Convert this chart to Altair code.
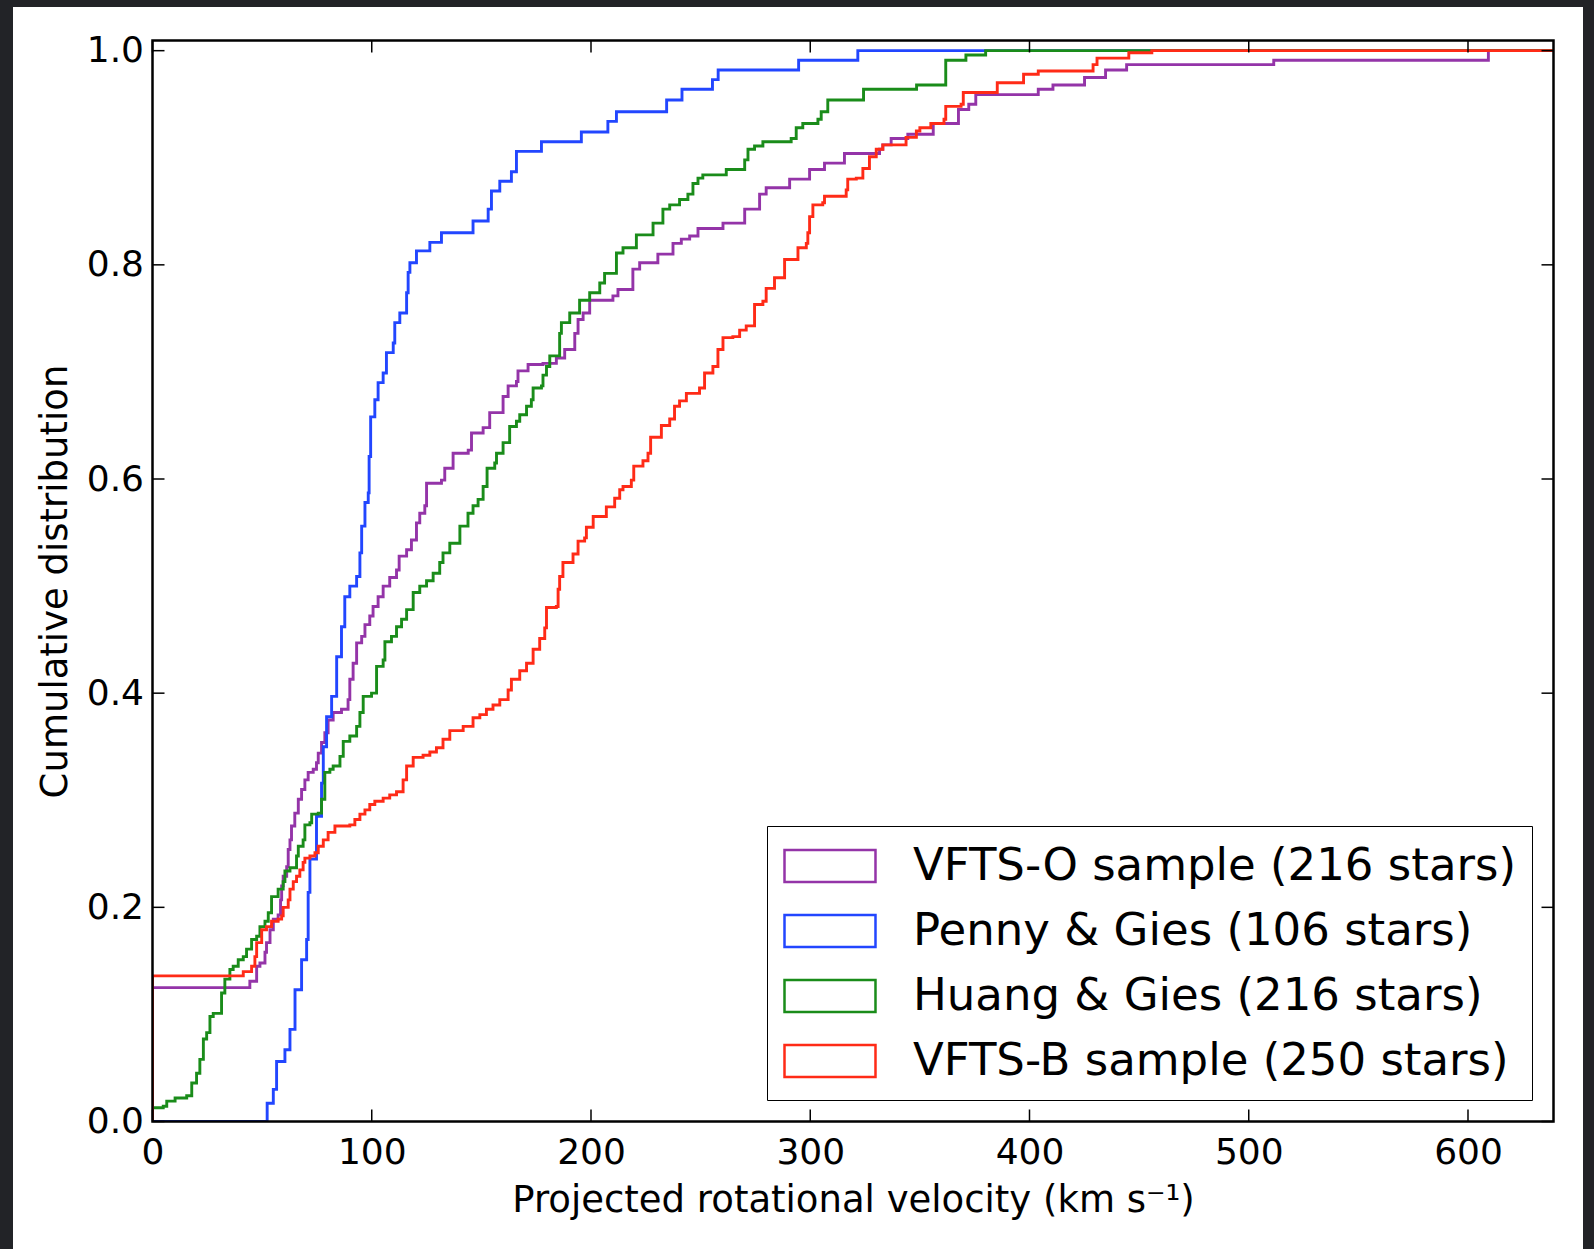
import altair as alt
import pandas as pd

# ---------------- data ----------------
series_names = [
    "VFTS-O sample (216 stars)",
    "Penny & Gies (106 stars)",
    "Huang & Gies (216 stars)",
    "VFTS-B sample (250 stars)",
]
series_colors = ["#9434a8", "#2246ff", "#1a8c1a", "#ff2b17"]

vftso_v = [0, 0, 44.4, 47.5, 49.0, 51.3, 52.0, 53.6, 55.1, 57.3, 58.4, 58.9, 59.6, 61.2, 61.9, 62.7, 63.4,
           64.9, 66.5, 68.0, 69.5, 71.0, 73.3, 74.8, 75.6, 77.1, 78.6, 80.1, 82.4, 86.2, 89.2, 90.0, 91.5,
           93.1, 95.4, 96.9, 99.1, 100.6, 102.9, 105.2, 108.2, 111.3, 112.5, 115.9, 118.1, 120.4, 121.9,
           124.2, 125.0, 131.8, 133.3, 137.1, 144.0, 145.5, 150.8, 153.8, 159.9, 162.2, 166.0, 166.7, 171.3,
           178.1, 184.2, 188.0, 192.6, 194.1, 196.4, 199.4, 210.0, 212.3, 219.1, 222.2, 230.5, 237.4, 241.2,
           245.0, 248.8, 260.2, 270.1, 276.9, 279.9, 290.6, 299.7, 306.5, 315.6, 331.6, 333.1, 336.9, 344.5,
           356.1, 367.6, 372.3, 375.5, 404.0, 410.7, 425.1, 434.7, 444.3, 511.4, 609.3, 639]
vftso_cdf = [0, 0.125, 0.131, 0.145, 0.148, 0.158, 0.167, 0.179, 0.189, 0.193, 0.207, 0.22, 0.229, 0.238,
             0.254, 0.263, 0.276, 0.288, 0.301, 0.31, 0.319, 0.326, 0.329, 0.335, 0.344, 0.354, 0.363, 0.375,
             0.382, 0.385, 0.394, 0.413, 0.428, 0.447, 0.453, 0.464, 0.472, 0.481, 0.490, 0.500, 0.508,
             0.515, 0.528, 0.534, 0.543, 0.559, 0.568, 0.575, 0.596, 0.599, 0.610, 0.624, 0.627, 0.643,
             0.648, 0.662, 0.677, 0.687, 0.691, 0.701, 0.707, 0.708, 0.713, 0.721, 0.736, 0.749, 0.755,
             0.767, 0.771, 0.777, 0.796, 0.802, 0.810, 0.820, 0.824, 0.827, 0.834, 0.839, 0.852, 0.866,
             0.872, 0.880, 0.889, 0.895, 0.904, 0.908, 0.912, 0.918, 0.922, 0.932, 0.945, 0.950, 0.959,
             0.964, 0.968, 0.975, 0.982, 0.987, 0.991, 1.0, 1.0]

penny_v = [0, 52.3, 55.1, 56.6, 60.4, 62.7, 65.0, 68.0, 70.3, 71.0, 71.8, 74.8, 77.1, 77.9, 79.4, 81.7,
           84.0, 86.2, 87.7, 90.0, 93.1, 94.6, 95.4, 96.9, 98.4, 98.8, 99.5, 101.4, 102.9, 105.2, 106.7,
           109.8, 110.5, 112.8, 115.9, 116.6, 117.4, 120.4, 126.5, 131.8, 146.2, 153.1, 154.6, 158.4, 163.7,
           166.0, 177.4, 195.6, 207.7, 211.6, 234.5, 241.5, 255.4, 258.0, 294.7, 321.7, 639]
penny_cdf = [0, 0.017, 0.03, 0.056, 0.067, 0.086, 0.123, 0.151, 0.17, 0.214, 0.245, 0.285, 0.316, 0.35,
             0.378, 0.397, 0.434, 0.462, 0.49, 0.50, 0.509, 0.531, 0.556, 0.578, 0.587, 0.621, 0.658,
             0.674, 0.69, 0.699, 0.718, 0.727, 0.746, 0.755, 0.774, 0.793, 0.802, 0.813, 0.821, 0.830,
             0.841, 0.852, 0.869, 0.878, 0.887, 0.906, 0.915, 0.924, 0.934, 0.943, 0.954, 0.964, 0.973,
             0.982, 0.991, 1.0, 1.0]

huang_v = [0, 0, 4.9, 6.5, 10.3, 15.6, 17.9, 20.1, 21.6, 23.2, 24.7, 26.2, 27.7, 31.5, 33.0, 35.3, 36.8,
           39.1, 41.4, 42.9, 45.2, 47.5, 49.0, 51.3, 52.8, 54.3, 57.3, 59.6, 60.4, 62.7, 65.7, 66.5, 68.7,
           69.5, 71.8, 72.6, 75.6, 77.1, 78.6, 80.9, 82.4, 85.5, 87.0, 90.0, 93.1, 94.6, 96.1, 99.9, 102.2,
           105.2, 106.0, 109.0, 111.3, 113.6, 115.9, 118.9, 121.9, 125.0, 128.0, 131.0, 132.5, 135.6, 140.2,
           143.9, 146.2, 148.5, 150.8, 152.6, 156.1, 156.9, 159.9, 162.9, 166.0, 167.5, 170.6, 172.8, 173.6,
           177.4, 178.1, 179.7, 181.2, 185.7, 186.5, 190.3, 194.8, 199.4, 204.0, 206.2, 211.6, 214.6, 220.7,
           228.3, 232.8, 235.9, 240.4, 244.2, 246.5, 248.8, 251.0, 261.7, 270.1, 271.6, 274.6, 278.4, 291.3,
           293.6, 296.6, 303.5, 305.0, 308.0, 324.3, 348.5, 361.8, 371.0, 380.0, 639]
huang_cdf = [0, 0.0128, 0.0143, 0.019, 0.022, 0.024, 0.036, 0.045, 0.058, 0.077, 0.083, 0.098, 0.101,
             0.120, 0.133, 0.142, 0.145, 0.151, 0.154, 0.161, 0.170, 0.173, 0.182, 0.187, 0.195, 0.210,
             0.217, 0.224, 0.234, 0.237, 0.248, 0.257, 0.263, 0.277, 0.279, 0.287, 0.288, 0.301, 0.326,
             0.329, 0.332, 0.341, 0.355, 0.360, 0.369, 0.382, 0.397, 0.400, 0.425, 0.431, 0.448, 0.453,
             0.462, 0.469, 0.478, 0.494, 0.500, 0.505, 0.512, 0.522, 0.531, 0.540, 0.556, 0.568, 0.575,
             0.581, 0.593, 0.610, 0.615, 0.624, 0.634, 0.649, 0.654, 0.660, 0.668, 0.674, 0.685, 0.687,
             0.697, 0.705, 0.715, 0.736, 0.746, 0.755, 0.767, 0.774, 0.783, 0.792, 0.811, 0.816, 0.828,
             0.839, 0.852, 0.856, 0.861, 0.866, 0.876, 0.881, 0.884, 0.889, 0.898, 0.908, 0.911, 0.915,
             0.918, 0.928, 0.932, 0.936, 0.943, 0.954, 0.964, 0.968, 0.991, 0.996, 1.0, 1.0]

vftsb_v = [0, 0, 41.4, 45.2, 46.7, 47.5, 49.8, 52.0, 54.3, 57.3, 58.9, 59.6, 61.9, 62.7, 64.2, 65.7, 67.2,
           68.7, 69.5, 71.8, 74.1, 75.6, 77.9, 80.1, 83.2, 90.0, 92.3, 94.6, 96.9, 99.1, 101.4, 105.2, 108.2,
           111.3, 114.3, 115.9, 118.9, 123.4, 126.5, 129.5, 132.5, 135.6, 141.7, 146.2, 149.3, 152.3, 155.3,
           158.4, 162.2, 163.7, 167.5, 170.6, 173.6, 176.6, 178.9, 179.7, 184.2, 185.0, 185.7, 187.2, 191.8,
           194.1, 197.1, 197.9, 201.0, 207.0, 210.8, 213.1, 214.6, 218.4, 219.5, 223.7, 226.0, 227.2, 232.1,
           235.9, 238.1, 240.4, 243.5, 249.5, 251.8, 255.6, 257.9, 260.2, 264.7, 267.8, 270.8, 274.6, 278.4,
           279.9, 283.7, 288.3, 294.4, 298.2, 298.9, 299.7, 301.2, 305.7, 306.5, 316.4, 317.1, 321.0, 324.0,
           327.0, 330.1, 333.1, 343.7, 348.4, 350.0, 355.0, 361.0, 361.8, 368.8, 369.8, 385.3, 397.3, 404.0,
           429.0, 430.8, 445.3, 455.8, 639]
vftsb_cdf = [0, 0.136, 0.140, 0.145, 0.154, 0.167, 0.179, 0.182, 0.187, 0.189, 0.192, 0.200, 0.207, 0.217,
             0.224, 0.229, 0.235, 0.242, 0.246, 0.248, 0.251, 0.257, 0.263, 0.270, 0.276, 0.277, 0.282,
             0.287, 0.291, 0.296, 0.299, 0.302, 0.305, 0.308, 0.319, 0.332, 0.340, 0.342, 0.345, 0.349,
             0.357, 0.365, 0.369, 0.377, 0.380, 0.385, 0.389, 0.394, 0.403, 0.413, 0.421, 0.428, 0.441,
             0.451, 0.461, 0.480, 0.481, 0.497, 0.509, 0.522, 0.530, 0.542, 0.545, 0.555, 0.565, 0.574,
             0.582, 0.590, 0.593, 0.599, 0.612, 0.617, 0.624, 0.639, 0.650, 0.656, 0.668, 0.673, 0.680,
             0.685, 0.699, 0.705, 0.721, 0.732, 0.733, 0.739, 0.743, 0.763, 0.766, 0.778, 0.788, 0.805,
             0.816, 0.820, 0.830, 0.845, 0.856, 0.858, 0.864, 0.870, 0.880, 0.881, 0.890, 0.901, 0.908,
             0.912, 0.919, 0.925, 0.928, 0.932, 0.936, 0.948, 0.950, 0.961, 0.970, 0.978, 0.981, 0.987,
             0.993, 0.998, 1.0, 1.0]

x_ticks = [0, 100, 200, 300, 400, 500, 600]
y_ticks = [0.0, 0.2, 0.4, 0.6, 0.8, 1.0]

# ---------------- build table ----------------
rows = []
idx = 0
for name, vs, cs in zip(series_names,
                        [vftso_v, penny_v, huang_v, vftsb_v],
                        [vftso_cdf, penny_cdf, huang_cdf, vftsb_cdf]):
    for v, c in zip(vs, cs):
        rows.append({"series": name, "v": v, "cdf": c, "idx": idx})
        idx += 1
df = pd.DataFrame(rows)

W, H = 1401, 1081
XMAX, YMAX = 639, 1.0095
FONT = "DejaVu Sans"
TL = 12  # inward tick length

xscale = alt.Scale(domain=[0, XMAX], nice=False, zero=False)
yscale = alt.Scale(domain=[0, YMAX], nice=False, zero=False)
one = pd.DataFrame({"a": [0]})

# white figure panel over dark frame
panel = alt.Chart(one).mark_rect(color="white", clip=False).encode(
    x=alt.value(-139.5), x2=alt.value(1430.5), y=alt.value(-33.5), y2=alt.value(1215)
)

lines = alt.Chart(df).mark_line(interpolate="step-after", strokeWidth=2.9, clip=True).encode(
    x=alt.X("v:Q", scale=xscale,
            axis=alt.Axis(values=x_ticks, title="Projected rotational velocity (km s\u207b\u00b9)",
                          ticks=False, domain=False, grid=False, labelFontSize=36, labelFont=FONT,
                          labelColor="black", labelPadding=14, titleFont=FONT, titleFontSize=37,
                          titleFontWeight="normal", titleColor="black", titlePadding=12,
                          labelFlush=False, zindex=1)),
    y=alt.Y("cdf:Q", scale=yscale,
            axis=alt.Axis(values=y_ticks, format=".1f", title="Cumulative distribution",
                          ticks=False, domain=False, grid=False, labelFontSize=36, labelFont=FONT,
                          labelColor="black", labelPadding=9, titleFont=FONT, titleFontSize=37,
                          titleFontWeight="normal", titleColor="black", titlePadding=12,
                          labelFlush=False, zindex=1)),
    color=alt.Color("series:N",
                    scale=alt.Scale(domain=series_names, range=series_colors),
                    legend=alt.Legend(title=None, orient="none", legendX=614.5, legendY=785.5,
                                      strokeColor="black", fillColor="white", padding=16,
                                      labelFontSize=45, labelFont=FONT, labelColor="black",
                                      labelLimit=1000, labelOffset=82,
                                      symbolType="M-1,-0.711L3.044,-0.711L3.044,0.711L-1,0.711Z",
                                      symbolSize=2025, symbolStrokeWidth=2.5,
                                      symbolFillColor="transparent", rowPadding=18,
                                      cornerRadius=0)),
    order=alt.Order("idx:Q"),
)

xt = pd.DataFrame({"t": x_ticks})
yt = pd.DataFrame({"t": y_ticks})
bottom_ticks = alt.Chart(xt).mark_rule(color="black", strokeWidth=1.5).encode(
    x=alt.X("t:Q", scale=xscale), y=alt.value(H), y2=alt.value(H - TL))
top_ticks = alt.Chart(xt).mark_rule(color="black", strokeWidth=1.5).encode(
    x=alt.X("t:Q", scale=xscale), y=alt.value(0), y2=alt.value(TL))
left_ticks = alt.Chart(yt).mark_rule(color="black", strokeWidth=1.5).encode(
    y=alt.Y("t:Q", scale=yscale), x=alt.value(0), x2=alt.value(TL))
right_ticks = alt.Chart(yt).mark_rule(color="black", strokeWidth=1.5).encode(
    y=alt.Y("t:Q", scale=yscale), x=alt.value(W - TL), x2=alt.value(W))

frame = alt.Chart(one).mark_rect(filled=False, stroke="black", strokeWidth=2.5, clip=False).encode(
    x=alt.value(0), x2=alt.value(W), y=alt.value(0), y2=alt.value(H)
)

chart = alt.layer(panel, lines, bottom_ticks, top_ticks, left_ticks, right_ticks, frame).properties(
    width=W, height=H,
    autosize=alt.AutoSizeParams(type="none"),
    padding={"left": 152.5, "top": 40.5, "right": 40.5, "bottom": 127.5},
    background="#222327",
).configure_view(stroke=None, fill="white")

chart.save("out.html", embed_options={"renderer": "svg", "actions": False})
